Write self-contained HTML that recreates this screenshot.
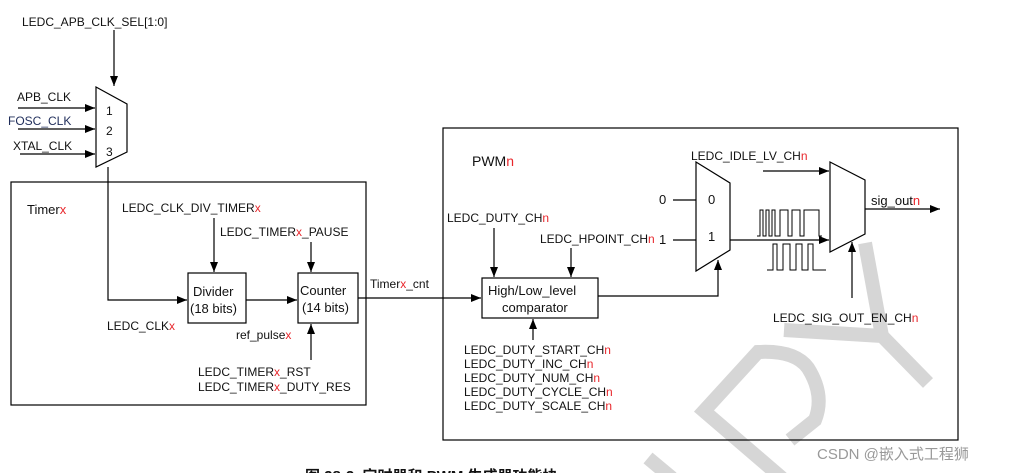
<!DOCTYPE html><html><head><style>body{margin:0;background:#fff;overflow:hidden}svg{display:block}text{font-family:"Liberation Sans","Noto Sans CJK SC",sans-serif;font-size:12px;fill:#111}.r{fill:#e8262b}</style></head><body>
<svg width="1023" height="473" viewBox="0 0 1023 473" xmlns="http://www.w3.org/2000/svg">
<defs><marker id="a" markerWidth="10" markerHeight="8" refX="10" refY="4" orient="auto" markerUnits="userSpaceOnUse"><path d="M0,0L10,4L0,8z" fill="#000"/></marker></defs>
<g stroke="#d6d6d6" stroke-width="14" fill="none" stroke-linejoin="miter">
<path d="M865,243L882,336"/><path d="M784,330L882,336L928,383"/>
<path d="M782,478L704,411L758,352Q795,350 808,368Q825,395 815,420L790,440"/>
<path d="M648,458L672,478"/>
</g>
<g stroke="#000" stroke-width="1.2" fill="none">
<line x1="114" y1="30" x2="114" y2="86" marker-end="url(#a)"/>
<path d="M96,87L127,104L127,152L96,167Z" fill="#fff"/>
<line x1="18" y1="108" x2="95" y2="108" marker-end="url(#a)"/>
<line x1="18" y1="129" x2="95" y2="129" marker-end="url(#a)"/>
<line x1="20" y1="154" x2="95" y2="154" marker-end="url(#a)"/>
<rect x="11" y="182" width="355" height="223"/>
<polyline points="108,167 108,300 187,300" marker-end="url(#a)"/>
<rect x="188" y="273" width="58" height="50" fill="#fff"/>
<rect x="298" y="273" width="60" height="50" fill="#fff"/>
<line x1="214" y1="218" x2="214" y2="272" marker-end="url(#a)"/>
<line x1="311" y1="242" x2="311" y2="272" marker-end="url(#a)"/>
<line x1="246" y1="300" x2="297" y2="300" marker-end="url(#a)"/>
<line x1="311" y1="360" x2="311" y2="324" marker-end="url(#a)"/>
<rect x="443" y="128" width="515" height="312"/>
<line x1="358" y1="298" x2="481" y2="298" marker-end="url(#a)"/>
<rect x="482" y="278" width="116" height="40" fill="#fff"/>
<line x1="494" y1="228" x2="494" y2="277" marker-end="url(#a)"/>
<line x1="571" y1="248" x2="571" y2="277" marker-end="url(#a)"/>
<line x1="533" y1="340" x2="533" y2="319" marker-end="url(#a)"/>
<path d="M696,162L730,183L730,250L696,271Z" fill="#fff"/>
<polyline points="598,296 718,296 718,260" marker-end="url(#a)"/>
<line x1="673" y1="200" x2="696" y2="200"/>
<line x1="673" y1="240" x2="696" y2="240"/>
<line x1="730" y1="240" x2="829" y2="240" marker-end="url(#a)"/>
<path d="M830,162L865,180L865,234L830,252Z" fill="#fff"/>
<line x1="763" y1="171" x2="829" y2="171" marker-end="url(#a)"/>
<line x1="865" y1="209" x2="940" y2="209" marker-end="url(#a)"/>
<line x1="852" y1="298" x2="852" y2="242" marker-end="url(#a)"/>
<path stroke-width="1" d="M757,236H760V210H763V236H766V210H769V236H772V210H775V236H780V210H788V236H792V210H800V236H804V210H819V236H822"/>
<path stroke-width="1" d="M767,270H773V244H777V270H783V244H790V270H796V244H802V270H808V244H813V270H826"/>
</g>
<text x="22" y="26">LEDC_APB_CLK_SEL[1:0]</text>
<text x="17" y="101">APB_CLK</text>
<text x="8" y="125" style="fill:#1f2d5a">FOSC_CLK</text>
<text x="13" y="150">XTAL_CLK</text>
<text x="106" y="115">1</text><text x="106" y="135">2</text><text x="106" y="156">3</text>
<text x="27" y="214" style="font-size:13px">Timer<tspan class="r">x</tspan></text>
<text x="122" y="212">LEDC_CLK_DIV_TIMER<tspan class="r">x</tspan></text>
<text x="220" y="236">LEDC_TIMER<tspan class="r">x</tspan>_PAUSE</text>
<text x="193" y="296" style="font-size:13px">Divider</text><text x="190" y="313" style="font-size:13px">(18 bits)</text>
<text x="300" y="295" style="font-size:13px">Counter</text><text x="302" y="312" style="font-size:13px">(14 bits)</text>
<text x="107" y="330">LEDC_CLK<tspan class="r">x</tspan></text>
<text x="236" y="339">ref_pulse<tspan class="r">x</tspan></text>
<text x="198" y="376">LEDC_TIMER<tspan class="r">x</tspan>_RST</text>
<text x="198" y="391">LEDC_TIMER<tspan class="r">x</tspan>_DUTY_RES</text>
<text x="370" y="288">Timer<tspan class="r">x</tspan>_cnt</text>
<text x="472" y="166" style="font-size:14px">PWM<tspan class="r">n</tspan></text>
<text x="447" y="222">LEDC_DUTY_CH<tspan class="r">n</tspan></text>
<text x="540" y="243">LEDC_HPOINT_CH<tspan class="r">n</tspan></text>
<text x="488" y="295" style="font-size:13px">High/Low_level</text><text x="502" y="312" style="font-size:13px">comparator</text>
<text x="464" y="354">LEDC_DUTY_START_CH<tspan class="r">n</tspan></text>
<text x="464" y="368">LEDC_DUTY_INC_CH<tspan class="r">n</tspan></text>
<text x="464" y="382">LEDC_DUTY_NUM_CH<tspan class="r">n</tspan></text>
<text x="464" y="396">LEDC_DUTY_CYCLE_CH<tspan class="r">n</tspan></text>
<text x="464" y="410">LEDC_DUTY_SCALE_CH<tspan class="r">n</tspan></text>
<text x="659" y="204" style="font-size:13px">0</text><text x="659" y="244" style="font-size:13px">1</text>
<text x="708" y="204" style="font-size:13px">0</text><text x="708" y="241" style="font-size:13px">1</text>
<text x="691" y="160">LEDC_IDLE_LV_CH<tspan class="r">n</tspan></text>
<text x="871" y="205" style="font-size:13px">sig_out<tspan class="r">n</tspan></text>
<text x="773" y="322">LEDC_SIG_OUT_EN_CH<tspan class="r">n</tspan></text>
<text x="817" y="459" style="font-size:15px;fill:#999">CSDN @嵌入式工程狮</text>
<text x="305" y="481" style="font-size:15px;font-weight:bold">图 28-2. 定时器和 PWM 生成器功能块</text>
</svg></body></html>
